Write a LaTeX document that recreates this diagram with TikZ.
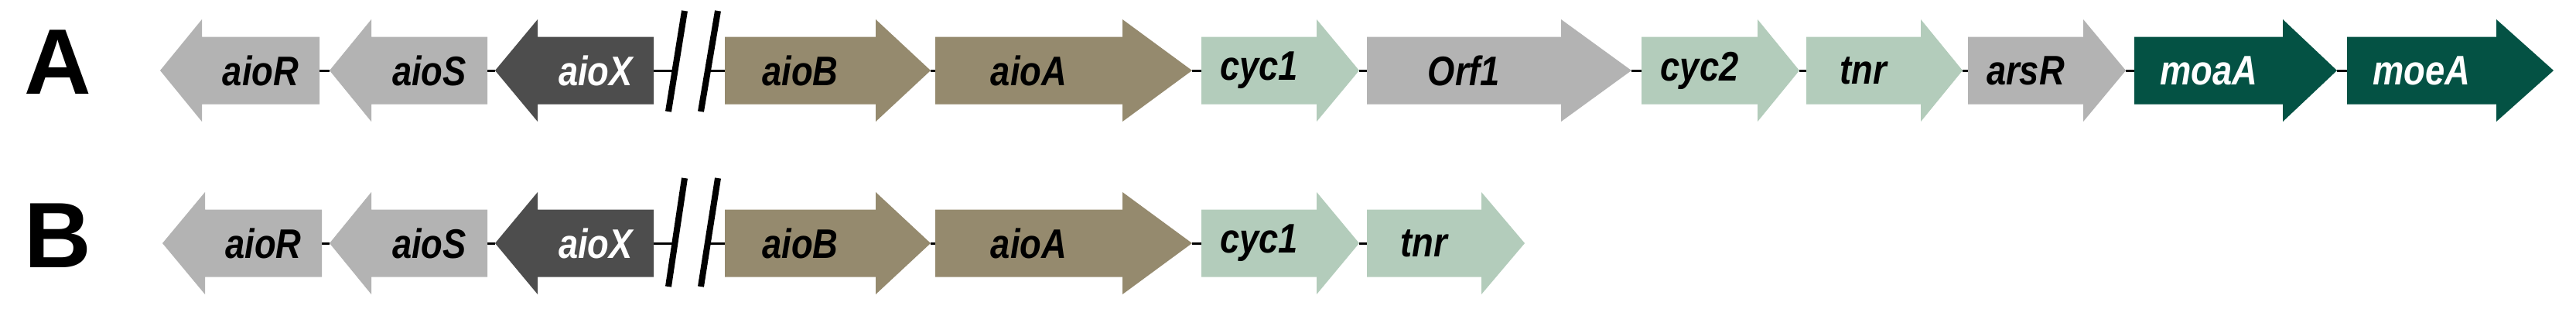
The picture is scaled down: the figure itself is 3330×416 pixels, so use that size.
\documentclass[tikz,border=0pt]{standalone}
\usepackage{fontspec}
\setmainfont{Liberation Sans}
\usetikzlibrary{backgrounds}
\definecolor{lg}{HTML}{B3B3B3}
\definecolor{dg}{HTML}{4D4D4D}
\definecolor{kh}{HTML}{958A6E}
\definecolor{mt}{HTML}{B3CCBB}
\definecolor{gr}{HTML}{045244}
\tikzset{
  glab/.style={font=\fontsize{16}{16}\selectfont\bfseries\itshape, inner sep=0pt, xscale=0.85, transform shape},
  panel/.style={font=\fontsize{36}{36}\selectfont\bfseries, inner sep=0pt},
  link/.style={line width=0.9pt, black},
  brk/.style={line width=2.4pt, black}
}
% right-pointing gene: name, left, base, tip, y, fill, textcolor, label
\newcommand\geneR[8]{%
  \fill[#6] (#2,{#5-43.5}) -- (#3,{#5-43.5}) -- (#3,{#5-66}) -- (#4,#5) -- (#3,{#5+66}) -- (#3,{#5+43.5}) -- (#2,{#5+43.5}) -- cycle;
  \coordinate (#1-l) at (#2,#5); \coordinate (#1-r) at (#4,#5);
  \node[glab,text=#7] (#1) at ({(#2+#3)/2},#5) {#8};}
% left-pointing gene: name, tip, base, right, y, fill, textcolor, label
\newcommand\geneL[8]{%
  \fill[#6] (#4,{#5-43.5}) -- (#3,{#5-43.5}) -- (#3,{#5-66}) -- (#2,#5) -- (#3,{#5+66}) -- (#3,{#5+43.5}) -- (#4,{#5+43.5}) -- cycle;
  \coordinate (#1-l) at (#2,#5); \coordinate (#1-r) at (#4,#5);
  \node[glab,text=#7] (#1) at ({(#3+#4)/2},#5) {#8};}
\begin{document}
\begin{tikzpicture}[x=0.3pt,y=-0.3pt]
\useasboundingbox (0,0) rectangle (3330,416);
\node[panel] (pA) at (75,80) {A};
\node[panel] (pB) at (75,304) {B};
% row A genes
\geneL{aR}{207}{261}{413}{91}{lg}{black}{aioR}
\geneL{aS}{426}{480}{630}{91}{lg}{black}{aioS}
\geneL{aX}{640}{695}{845}{91}{dg}{white}{aioX}
\geneR{aB}{937}{1132}{1203}{91}{kh}{black}{aioB}
\geneR{aA}{1209}{1451}{1541}{91}{kh}{black}{aioA}
\geneR{c1}{1553}{1702}{1757}{91}{mt}{black}{cyc1}
\geneR{o1}{1767}{2018}{2109}{91}{lg}{black}{Orf1}
\geneR{c2}{2122}{2272}{2326}{91}{mt}{black}{cyc2}
\geneR{tn}{2335}{2483}{2537}{91}{mt}{black}{tnr}
\geneR{ar}{2544}{2693}{2748}{91}{lg}{black}{arsR}
\geneR{mo}{2759}{2951}{3021}{91}{gr}{white}{moaA}
\geneR{me}{3034}{3227}{3301}{91}{gr}{white}{moeA}
\draw[brk] (885,14) -- (864,144);
\draw[brk] (928,14) -- (906,144);
\coordinate (a1) at (874,91); \coordinate (a2) at (917,91);
% row B genes
\geneL{bR}{210}{265}{416}{314}{lg}{black}{aioR}
\geneL{bS}{426}{480}{630}{314}{lg}{black}{aioS}
\geneL{bX}{640}{695}{845}{314}{dg}{white}{aioX}
\geneR{bB}{937}{1132}{1203}{314}{kh}{black}{aioB}
\geneR{bA}{1209}{1451}{1541}{314}{kh}{black}{aioA}
\geneR{bc}{1553}{1702}{1757}{314}{mt}{black}{cyc1}
\geneR{bt}{1767}{1915}{1971}{314}{mt}{black}{tnr}
\draw[brk] (885,230) -- (864,370);
\draw[brk] (928,230) -- (906,370);
\coordinate (b1) at (874,314); \coordinate (b2) at (917,314);
\begin{scope}[on background layer]
\draw[link] (aR-r) -- (aS-l) (aS-r) -- (aX-l) (aX-r) -- (a1) (a2) -- (aB-l);
\foreach \p/\q in {aB/aA,aA/c1,c1/o1,o1/c2,c2/tn,tn/ar,ar/mo,mo/me}
  \draw[link] (\p-r) -- (\q-l);
\draw[link] (bR-r) -- (bS-l) (bS-r) -- (bX-l) (bX-r) -- (b1) (b2) -- (bB-l)
  (bB-r) -- (bA-l) (bA-r) -- (bc-l) (bc-r) -- (bt-l);
\end{scope}
\end{tikzpicture}
\end{document}
